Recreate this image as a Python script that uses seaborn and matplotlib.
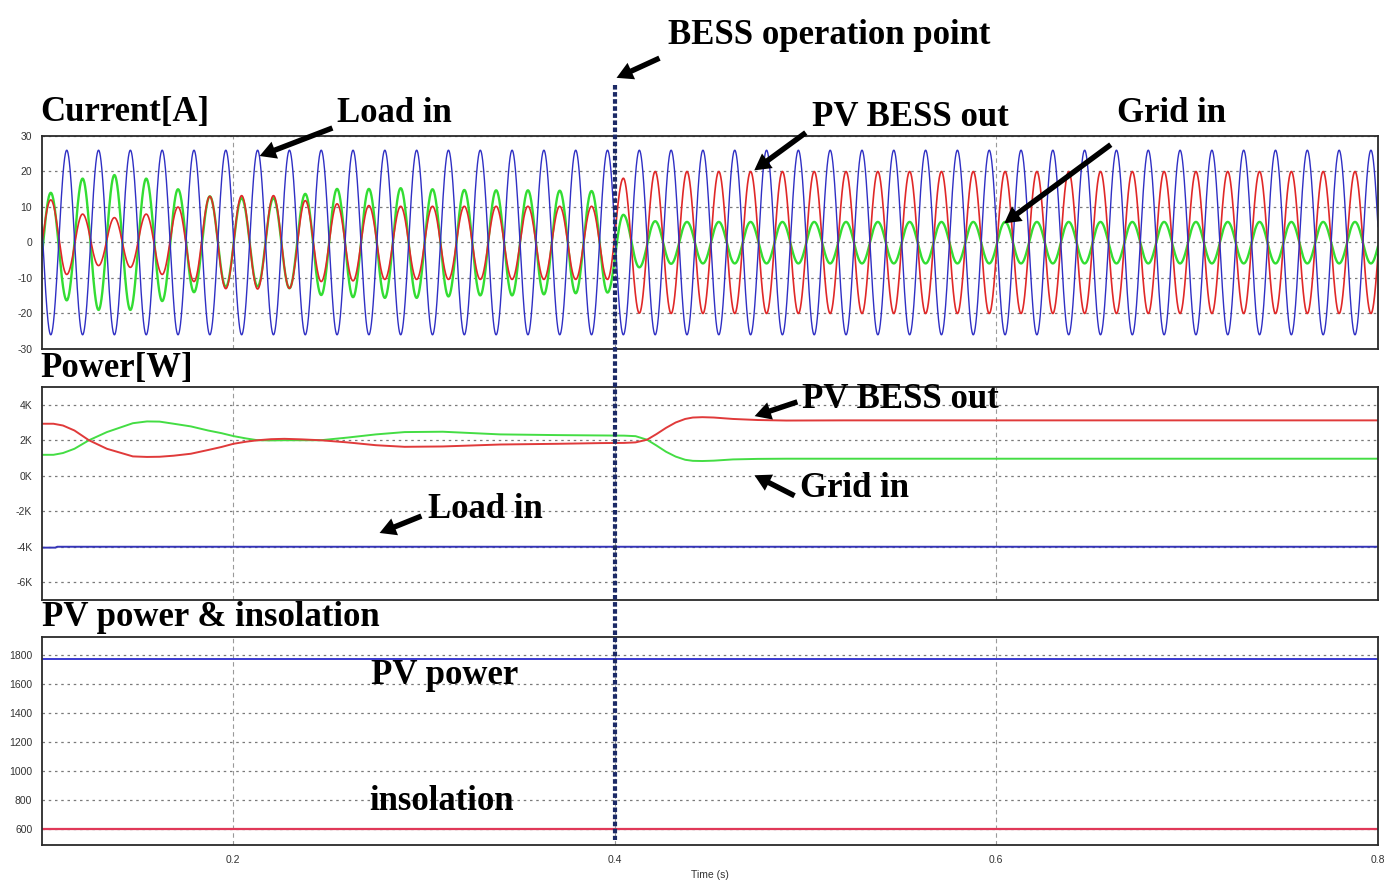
import numpy as np
import pandas as pd
import matplotlib
matplotlib.use("Agg")
import matplotlib.pyplot as plt
import seaborn as sns
from matplotlib.lines import Line2D
from matplotlib.patches import FancyArrowPatch
from matplotlib import transforms

# ---------------- data ----------------
FREQ = 60.0
T_PEAK0 = 0.1046      # first positive peak of PV/BESS & grid currents
T_TROUGH0 = 0.0963    # trough just before it

# current extrema (one value per half cycle)
red_peaks = [12, 8, 7, 8, 10, 13, 13.2, 13.2, 11.8, 10.9, 10.4] + [10.2] * 7 + [18.1] + [20.0] * 24
red_troughs = [-9, -9, -6.5, -7, -9, -11, -13, -13.1, -12.9, -11, -10.8, -10.4] + [-10.4] * 7 + [-19.9] + [-20.0] * 23
green_peaks = [14, 18, 19, 18, 15, 13, 12.5, 12.5, 13.7, 15.1, 15.1,
               15.3, 15.0, 14.8, 14.7, 14.7, 14.6, 14.5, 7.8, 6.0] + [5.8] * 23
green_troughs = [-16, -16.3, -19, -19, -16.5, -14, -12.5, -12.4, -12.9, -14.8, -15.4, -15.6,
                 -15.6, -15.2, -14.9, -14.9, -14.6, -14.3, -14.1, -7.0, -6.0] + [-5.9] * 22
load_peaks = [26.0] * 43
load_troughs = [-26.0] * 43

# power [W]
p_time = [0.100, 0.106, 0.111, 0.117, 0.1246, 0.134, 0.1476, 0.155, 0.1616, 0.169, 0.178,
          0.187, 0.194, 0.2003, 0.207, 0.213, 0.220, 0.227, 0.236, 0.246, 0.260, 0.275,
          0.290, 0.310, 0.340, 0.370, 0.393, 0.405, 0.411, 0.417, 0.422, 0.427, 0.432,
          0.437, 0.441, 0.446, 0.452, 0.462, 0.475, 0.490, 0.520, 0.600, 0.800]
p_pvbess = [2930, 2930, 2830, 2550, 2000, 1520, 1090, 1060, 1070, 1130, 1240,
            1450, 1620, 1800, 1920, 2000, 2060, 2080, 2050, 2000, 1880, 1720,
            1630, 1650, 1760, 1800, 1840, 1850, 1880, 2030, 2350, 2700, 3000,
            3200, 3280, 3300, 3280, 3200, 3140, 3110, 3120, 3120, 3120]
p_grid = [1180, 1180, 1280, 1520, 2000, 2460, 2960, 3060, 3050, 2930, 2780,
          2550, 2400, 2235, 2100, 2000, 1990, 2000, 2000, 2000, 2150, 2330,
          2460, 2480, 2330, 2290, 2270, 2260, 2230, 2030, 1700, 1350, 1080,
          900, 840, 830, 850, 920, 950, 960, 960, 960, 960]
load_time = [0.100, 0.107, 0.108, 0.800]
p_load = [-4050, -4050, -4000, -4000]

# PV power & insolation
pv_time = [0.1, 0.8]
pv_power = [1775, 1775]
insolation = [600, 600]

bess_time = 0.4
x_ticks = [0.2, 0.4, 0.6, 0.8]
cur_ticks = [-30, -20, -10, 0, 10, 20, 30]
pow_ticks = [-6000, -4000, -2000, 0, 2000, 4000]
pow_labels = ["-6K", "-4K", "-2K", "0K", "2K", "4K"]
pv_ticks = [600, 800, 1000, 1200, 1400, 1600, 1800]


def wave(peaks, troughs, t, inverted=False):
    """Half-cosine segments between the read extrema (60 Hz waveform)."""
    n = len(peaks) + len(troughs)
    te = np.empty(n)
    ve = np.empty(n)
    te[0::2] = T_TROUGH0 + np.arange(len(troughs)) / FREQ
    te[1::2] = T_PEAK0 + np.arange(len(peaks)) / FREQ
    if inverted:   # load current: positive peaks fall on the trough instants
        ve[0::2] = peaks
        ve[1::2] = troughs
    else:
        ve[0::2] = troughs
        ve[1::2] = peaks
    idx = np.clip(np.searchsorted(te, t, side="right") - 1, 0, n - 2)
    s = (t - te[idx]) / (te[idx + 1] - te[idx])
    return ve[idx] + (ve[idx + 1] - ve[idx]) * (1 - np.cos(np.pi * s)) / 2


t = np.linspace(0.1, 0.8, 20000)
cur_df = pd.DataFrame({
    "t": t,
    "red": wave(red_peaks, red_troughs, t),
    "green": wave(green_peaks, green_troughs, t),
    "blue": wave(load_peaks, load_troughs, t, inverted=True),
})
pow_df = pd.DataFrame({"t": p_time, "pv": p_pvbess, "grid": p_grid})
load_df = pd.DataFrame({"t": load_time, "load": p_load})
pv_df = pd.DataFrame({"t": pv_time, "pv": pv_power, "ins": insolation})

# ---------------- figure ----------------
sns.set_theme(style="white")
plt.rcParams["font.family"] = ["Liberation Sans", "DejaVu Sans"]
plt.rcParams["axes.unicode_minus"] = False

W, H = 1387, 884
fig = plt.figure(figsize=(W / 100, H / 100), dpi=100)
fig.patch.set_facecolor("white")


def axes_px(left, top, right, bottom):
    return fig.add_axes([left / W, 1 - bottom / H, (right - left) / W, (bottom - top) / H])


ax1 = axes_px(42, 136, 1378, 349)
ax2 = axes_px(42, 387, 1378, 600)
ax3 = axes_px(42, 637, 1378, 845)

BLUE = "#2f2fc4"
RED = "#e02828"
GREEN = "#33dd33"

sns.lineplot(data=cur_df, x="t", y="green", ax=ax1, color=GREEN, lw=1.7, estimator=None, sort=False)
sns.lineplot(data=cur_df, x="t", y="red", ax=ax1, color=RED, lw=1.2, estimator=None, sort=False)
sns.lineplot(data=cur_df, x="t", y="blue", ax=ax1, color=BLUE, lw=1.0, estimator=None, sort=False)

sns.lineplot(data=pow_df, x="t", y="grid", ax=ax2, color="#44dd44", lw=1.4, estimator=None, sort=False)
sns.lineplot(data=pow_df, x="t", y="pv", ax=ax2, color="#e03a3a", lw=1.4, estimator=None, sort=False)
sns.lineplot(data=load_df, x="t", y="load", ax=ax2, color="#3434b8", lw=1.4, estimator=None, sort=False)

sns.lineplot(data=pv_df, x="t", y="pv", ax=ax3, color="#3a3ad0", lw=1.4, estimator=None, sort=False)
sns.lineplot(data=pv_df, x="t", y="ins", ax=ax3, color="#e03858", lw=1.6, estimator=None, sort=False)

ax1.set_ylim(-30, 30)
ax1.set_yticks(cur_ticks)
ax2.set_ylim(-7000, 5000)
ax2.set_yticks(pow_ticks)
ax2.set_yticklabels(pow_labels)
ax3.set_ylim(490, 1925)
ax3.set_yticks(pv_ticks)

for ax in (ax1, ax2, ax3):
    ax.set_xlim(0.1, 0.8)
    ax.set_xticks(x_ticks)
    ax.set_xlabel("")
    ax.set_ylabel("")
    ax.yaxis.grid(True, linestyle=(0, (2, 3)), color="#7a7a7a", lw=0.9)
    ax.xaxis.grid(True, linestyle=(0, (4, 3)), color="#9a9a9a", lw=0.8)
    ax.tick_params(axis="both", length=0, labelsize=7.5, labelcolor="#333333", pad=7)
    for sp in ax.spines.values():
        sp.set_color("#2a2a2a")
        sp.set_linewidth(1.3)
    ax.set_facecolor("white")

ax1.set_xticklabels([])
ax2.set_xticklabels([])
ax3.set_xlabel("Time (s)", fontsize=7.5, color="#333333", labelpad=4)

# BESS operation vertical marker spanning the three panels
trans = transforms.blended_transform_factory(ax1.transData, fig.transFigure)
fig.add_artist(Line2D([bess_time, bess_time], [1 - 85 / H, 1 - 840 / H], transform=trans,
                      color="#1c2a66", lw=3.0, linestyle=(0, (1.1, 0.6)), zorder=10))

# ---------------- text & arrows ----------------
SERIF = ["Liberation Serif", "DejaVu Serif"]
FS = 25


def label(x, y, s, size=FS):
    fig.text(x / W, 1 - (y + 3) / H, s, fontsize=size, fontweight="bold", family=SERIF,
             ha="left", va="center", color="black")


def arrow(x0, y0, x1, y1):
    fig.add_artist(FancyArrowPatch(
        (x0 / W, 1 - y0 / H), (x1 / W, 1 - y1 / H), transform=fig.transFigure,
        arrowstyle="simple,head_width=1.0,head_length=0.9,tail_width=0.3",
        mutation_scale=13, color="black", lw=0, zorder=12))


label(668, 33, "BESS operation point")
label(40, 110, "Current[A]")
label(337, 110, "Load in")
label(812, 115, "PV BESS out")
label(1117, 110, "Grid in")
label(40, 365, "Power[W]")
label(802, 397, "PV BESS out")
label(800, 485, "Grid in")
label(428, 507, "Load in")
label(42, 615, "PV power & insolation")
label(371, 673, "PV power")
label(369, 798, "insolation")

arrow(662, 57, 614, 79)
arrow(335, 127, 257, 157)
arrow(808, 131, 752, 172)
arrow(1113, 143, 1002, 225)
arrow(800, 401, 752, 417)
arrow(797, 497, 752, 474)
arrow(424, 515, 377, 534)

fig.savefig("out.png", dpi=100, facecolor="white")
